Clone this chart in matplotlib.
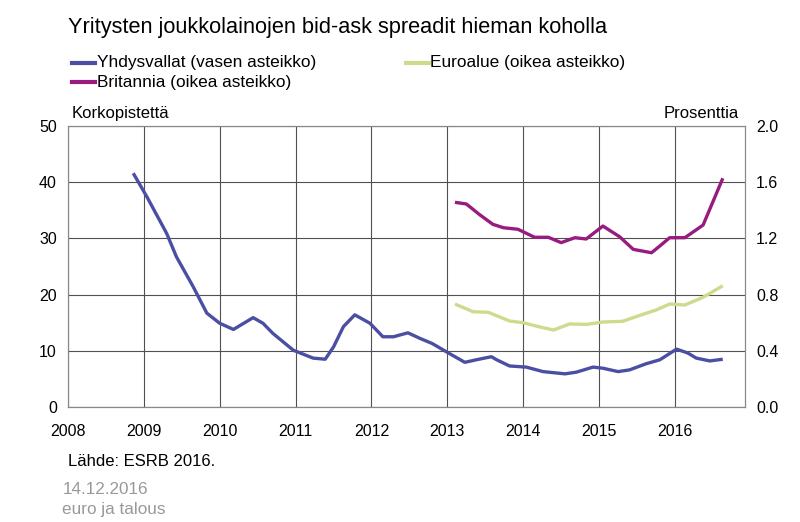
import matplotlib.pyplot as plt

plt.rcParams['font.family'] = ['Liberation Sans', 'DejaVu Sans']

# Yhdysvallat (left axis, basis points)
us_t = [2008.86, 2009.04, 2009.30, 2009.43, 2009.65, 2009.83, 2010.00, 2010.18, 2010.44,
        2010.57, 2010.70, 2010.97, 2011.23, 2011.39, 2011.50, 2011.63, 2011.78, 2011.98,
        2012.15, 2012.29, 2012.48, 2012.64, 2012.80, 2012.99, 2013.23, 2013.38, 2013.58,
        2013.65, 2013.82, 2014.04, 2014.26, 2014.55, 2014.70, 2014.92, 2015.05, 2015.25,
        2015.40, 2015.62, 2015.80, 2016.02, 2016.17, 2016.28, 2016.46, 2016.63]
us_v = [41.6, 37.4, 30.9, 26.7, 21.4, 16.7, 14.9, 13.8, 15.9,
        14.9, 13.1, 10.1, 8.7, 8.5, 10.7, 14.3, 16.4, 14.9,
        12.5, 12.5, 13.2, 12.2, 11.3, 9.8, 7.95, 8.4, 8.95,
        8.4, 7.3, 7.1, 6.3, 5.9, 6.2, 7.1, 6.9, 6.3,
        6.6, 7.7, 8.4, 10.3, 9.6, 8.7, 8.2, 8.5]

# Britannia (right axis, percent)
uk_t = [2013.10, 2013.25, 2013.43, 2013.60, 2013.74, 2013.93, 2014.15, 2014.33, 2014.50,
        2014.68, 2014.83, 2015.05, 2015.27, 2015.45, 2015.69, 2015.80, 2015.93, 2016.13,
        2016.37, 2016.50, 2016.63]
uk_v = [1.457, 1.445, 1.367, 1.300, 1.276, 1.265, 1.208, 1.208, 1.170,
        1.205, 1.196, 1.288, 1.212, 1.122, 1.098, 1.146, 1.205, 1.205,
        1.295, 1.461, 1.628]

# Euroalue (right axis, percent)
ea_t = [2013.10, 2013.34, 2013.54, 2013.82, 2014.00, 2014.20, 2014.40, 2014.61, 2014.83,
        2015.05, 2015.31, 2015.58, 2015.75, 2015.93, 2016.13, 2016.37, 2016.63]
ea_v = [0.733, 0.678, 0.674, 0.612, 0.600, 0.572, 0.548, 0.591, 0.588,
        0.605, 0.610, 0.660, 0.690, 0.733, 0.726, 0.781, 0.863]

years = list(range(2008, 2017))

c_us = '#4a4fa3'
c_uk = '#981b80'
c_ea = '#cddb8c'

fig = plt.figure(figsize=(8, 5.22), dpi=100)
ax = fig.add_axes([0.085, 0.2203, 0.846, 0.5383])
ax2 = ax.twinx()

ax.plot(us_t, us_v, color=c_us, lw=2.4, solid_capstyle='butt')
ax2.plot(ea_t, ea_v, color=c_ea, lw=2.4, solid_capstyle='butt')
ax2.plot(uk_t, uk_v, color=c_uk, lw=2.4, solid_capstyle='butt')

ax.set_xlim(2008, 2016.92)
ax.set_ylim(0, 50)
ax2.set_ylim(0, 2.0)
ax.set_xticks(years)
ax.set_yticks(range(0, 51, 10))
ax2.set_yticks([0, 0.4, 0.8, 1.2, 1.6, 2.0])
ax2.set_yticklabels(['0.0', '0.4', '0.8', '1.2', '1.6', '2.0'])
ax.grid(True, color='#505050', lw=0.8)
ax.set_axisbelow(True)
for a in (ax, ax2):
    for s in a.spines.values():
        s.set_color('#888888')
        s.set_linewidth(0.8)
    a.tick_params(length=0, labelsize=11.5, pad=8)
ax.tick_params(axis='x', pad=12)

fig.text(0.085, 0.948, 'Yritysten joukkolainojen bid-ask spreadit hieman koholla',
         fontsize=15.7, va='center')
fig.text(0.09, 0.782, 'Korkopistettä', fontsize=12, va='center')
fig.text(0.924, 0.782, 'Prosenttia', fontsize=12, va='center', ha='right')

# legend
leg = [(0.09, 0.880, c_us, 'Yhdysvallat (vasen asteikko)'),
       (0.507, 0.880, c_ea, 'Euroalue (oikea asteikko)'),
       (0.09, 0.842, c_uk, 'Britannia (oikea asteikko)')]
for x, y, c, lab in leg:
    fig.add_artist(plt.Line2D([x, x + 0.029], [y, y], color=c, lw=3, transform=fig.transFigure))
    fig.text(x + 0.031, y, lab, fontsize=12.45, va='center')

fig.text(0.085, 0.115, 'Lähde: ESRB 2016.', fontsize=12, va='center')
fig.text(0.078, 0.062, '14.12.2016', fontsize=12.3, va='center', color='#999999')
fig.text(0.078, 0.024, 'euro ja talous', fontsize=12.3, va='center', color='#999999')

fig.savefig('out.png', dpi=100)
